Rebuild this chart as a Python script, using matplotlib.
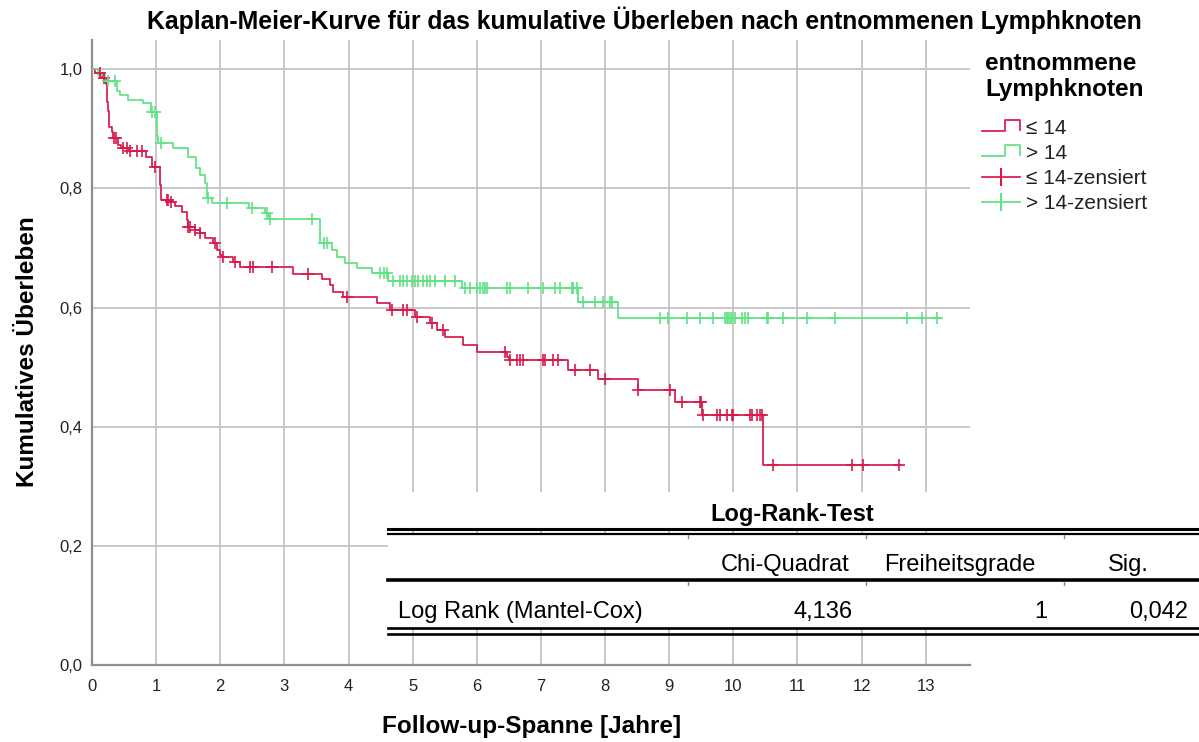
import numpy as np
import matplotlib
matplotlib.use('Agg')
import matplotlib.pyplot as plt
from matplotlib.lines import Line2D
from matplotlib.legend_handler import HandlerBase
from matplotlib.patches import Rectangle

plt.rcParams['font.family'] = ['Liberation Sans', 'DejaVu Sans']

# Gruppe <= 14 entnommene Lymphknoten: Stufen (Zeit in Jahren, Überleben danach)
t_le14 = [0, 0.05, 0.15, 0.22, 0.23, 0.24, 0.25, 0.26, 0.27, 0.31, 0.33, 0.40, 0.45,
          0.58, 0.84, 0.93, 1.06, 1.065, 1.07, 1.08, 1.21, 1.29, 1.40, 1.48, 1.495,
          1.60, 1.68, 1.76, 1.88, 1.95, 1.99, 2.03, 2.20, 2.30, 3.13, 3.58, 3.71,
          3.76, 3.91, 4.44, 4.64, 5.03, 5.27, 5.38, 5.50, 5.78, 6.00, 6.47, 6.50,
          7.42, 7.89, 8.51, 9.09, 9.51, 10.46]
s_le14 = [1.0, 0.993, 0.985, 0.975, 0.96, 0.945, 0.93, 0.915, 0.903, 0.895, 0.884,
          0.872, 0.867, 0.862, 0.852, 0.836, 0.82, 0.805, 0.79, 0.780, 0.777, 0.771,
          0.760, 0.747, 0.735, 0.730, 0.725, 0.716, 0.708, 0.696, 0.688, 0.685,
          0.676, 0.668, 0.657, 0.648, 0.637, 0.626, 0.617, 0.607, 0.596, 0.584,
          0.574, 0.562, 0.550, 0.537, 0.525, 0.517, 0.512, 0.495, 0.480, 0.461,
          0.441, 0.419, 0.336]
cens_le14 = [0.13, 0.18, 0.34, 0.37, 0.48, 0.55, 0.60, 0.70, 0.78, 0.99, 1.17, 1.19,
             1.23, 1.50, 1.53, 1.61, 1.69, 1.92, 2.04, 2.23, 2.46, 2.51, 2.81, 3.37,
             3.97, 4.68, 4.85, 4.91, 5.07, 5.30, 5.47, 6.44, 6.52, 6.62, 6.67, 6.72,
             7.03, 7.06, 7.19, 7.26, 7.53, 7.76, 8.00, 8.52, 9.01, 9.20, 9.48, 9.50,
             9.525, 9.74, 9.79, 9.90, 9.98, 9.99, 10.26, 10.29, 10.37, 10.41, 10.44,
             10.62, 11.85, 12.02, 12.58]
end_le14 = 12.6

# Gruppe > 14
t_gt14 = [0, 0.09, 0.20, 0.39, 0.44, 0.56, 0.80, 0.92, 1.01, 1.015, 1.02, 1.03, 1.26,
          1.49, 1.62, 1.68, 1.76, 1.79, 1.87, 2.45, 2.70, 2.76, 3.55, 3.56, 3.74,
          3.82, 3.94, 4.13, 4.36, 4.61, 5.77, 7.58, 8.20]
s_gt14 = [1.0, 0.99, 0.98, 0.963, 0.956, 0.948, 0.943, 0.928, 0.915, 0.90, 0.888,
          0.876, 0.867, 0.852, 0.834, 0.822, 0.809, 0.784, 0.775, 0.767, 0.758,
          0.748, 0.730, 0.708, 0.696, 0.685, 0.675, 0.666, 0.658, 0.644, 0.633,
          0.609, 0.582]
cens_gt14 = [0.25, 0.36, 0.94, 0.98, 1.08, 1.81, 2.11, 2.49, 2.73, 2.78, 3.43, 3.61,
             3.66, 4.49, 4.55, 4.60, 4.69, 4.80, 4.85, 4.91, 4.99, 5.04, 5.08, 5.16,
             5.22, 5.27, 5.35, 5.50, 5.66, 5.81, 5.89, 6.00, 6.05, 6.10, 6.13, 6.16,
             6.47, 6.52, 6.80, 7.03, 7.22, 7.30, 7.48, 7.50, 7.56, 7.65, 7.84, 7.97,
             8.08, 8.11, 8.85, 8.98, 9.28, 9.48, 9.68, 9.87, 9.90, 9.91, 9.95, 9.98,
             10.02, 10.13, 10.18, 10.23, 10.52, 10.54, 10.77, 11.15, 11.58, 12.70,
             12.94, 13.17]
end_gt14 = 13.22

labels = ['\u2264 14', '> 14', '\u2264 14-zensiert', '> 14-zensiert']
x_ticks = list(range(14))
y_ticks = [0.0, 0.2, 0.4, 0.6, 0.8, 1.0]

test_title = 'Log-Rank-Test'
test_cols = ['Chi-Quadrat', 'Freiheitsgrade', 'Sig.']
test_row = 'Log Rank (Mantel-Cox)'
test_vals = ['4,136', '1', '0,042']

red = '#D8194C'
green = '#5FE383'

W, H = 1199, 742
fig = plt.figure(figsize=(W / 100, H / 100), dpi=100)
ax = fig.add_axes([92 / W, 1 - 665 / H, (970 - 92) / W, (665 - 40) / H])


def fx(px):
    return px / W


def fy(py):
    return 1 - py / H


def km(ax, t, s, cens, t_end, color):
    tt = list(t) + [t_end]
    ss = list(s) + [s[-1]]
    ax.step(tt, ss, where='post', color=color, lw=1.25, zorder=3)
    idx = np.searchsorted(t, cens, side='right') - 1
    ax.plot(cens, np.array(s)[idx], ls='none', marker='+', ms=9, mew=1.2,
            color=color, zorder=4)


km(ax, t_le14, s_le14, cens_le14, end_le14, red)
km(ax, t_gt14, s_gt14, cens_gt14, end_gt14, green)

ax.set_xlim(0, 13.69)
ax.set_ylim(0, 1.049)
ax.set_xticks(x_ticks)
ax.set_xticklabels([str(v) for v in x_ticks])
ax.set_yticks(y_ticks)
ax.set_yticklabels([f'{v:.1f}'.replace('.', ',') for v in y_ticks])
ax.tick_params(length=0, labelsize=12, colors='#222222')
ax.tick_params(axis='x', pad=10)
ax.tick_params(axis='y', pad=7)
ax.grid(True, color='#C4C4C4', lw=1.3)
ax.set_axisbelow(True)
for side in ['top', 'right']:
    ax.spines[side].set_visible(False)
for side in ['left', 'bottom']:
    ax.spines[side].set_color('#8E8E8E')
    ax.spines[side].set_linewidth(1.6)


class StepHandler(HandlerBase):
    def create_artists(self, legend, orig, xd, yd, w, h, fontsize, trans):
        x0, y0 = -xd, -yd
        xs = [x0, x0 + 0.6 * w, x0 + 0.6 * w, x0 + w, x0 + w]
        ys = [y0 + 0.2 * h, y0 + 0.2 * h, y0 + 0.95 * h, y0 + 0.95 * h, y0 + 0.25 * h]
        return [Line2D(xs, ys, color=orig.get_color(), lw=1.25, transform=trans)]


h1 = Line2D([], [], color=red, lw=1.25)
h2 = Line2D([], [], color=green, lw=1.25)
h3 = Line2D([], [], color=red, lw=1.25, marker='|', ms=13, mew=1.5)
h4 = Line2D([], [], color=green, lw=1.25, marker='|', ms=13, mew=1.5)
leg = ax.legend([h1, h2, h3, h4], labels,
                handler_map={h1: StepHandler(), h2: StepHandler()},
                loc='upper left', bbox_to_anchor=(fx(982), fy(52)),
                bbox_transform=fig.transFigure, frameon=False, borderpad=0,
                borderaxespad=0, handlelength=1.8, handletextpad=0.3,
                labelspacing=0.29, fontsize=15, title='entnommene\nLymphknoten',
                title_fontproperties={'weight': 'bold', 'size': 17.5})
leg.get_title().set_linespacing(1.15)
leg._legend_box.sep = 13
for txt in leg.get_texts():
    txt.set_color('#222222')

# Titel und Achsenbeschriftungen
fig.text(fx(644), fy(29), 'Kaplan-Meier-Kurve für das kumulative Überleben nach entnommenen Lymphknoten',
         ha='center', va='baseline', fontsize=17.8, fontweight='bold')
fig.text(fx(532), fy(727), 'Follow-up-Spanne [Jahre]', ha='center', va='center',
         fontsize=17.5, fontweight='bold')
fig.text(fx(28), fy(352), 'Kumulatives Überleben', ha='center', va='center',
         rotation=90, fontsize=17.5, fontweight='bold')

# Log-Rank-Tabelle
for top, bot in [(492, 528), (535, 627)]:
    fig.add_artist(Rectangle((fx(388), fy(bot)), fx(1199) - fx(388), fy(top) - fy(bot),
                             transform=fig.transFigure, facecolor='white',
                             edgecolor='none', zorder=5))
for yy, lw in [(528.5, 2.2), (533.5, 1.6), (580, 2.6), (628, 1.9), (634, 1.9)]:
    fig.add_artist(Line2D([fx(388), fx(1199)], [fy(yy), fy(yy)], color='black', lw=lw,
                          transform=fig.transFigure, zorder=6))
for xx in [688, 866, 1064]:
    for y1, y2 in [(535, 538), (582, 585)]:
        fig.add_artist(Line2D([fx(xx), fx(xx)], [fy(y1), fy(y2)], color='#888888', lw=1,
                              transform=fig.transFigure, zorder=6))

fig.text(fx(792), fy(515), test_title, ha='center', va='center', fontsize=17,
         fontweight='bold', zorder=7)
for xc, col in zip([785, 960, 1128], test_cols):
    fig.text(fx(xc), fy(565), col, ha='center', va='center', fontsize=17, zorder=7)
fig.text(fx(398), fy(612), test_row, ha='left', va='center', fontsize=17, zorder=7)
for xr, val in zip([853, 1047, 1188], test_vals):
    fig.text(fx(xr), fy(612), val, ha='right', va='center', fontsize=17, zorder=7)

fig.savefig('out.png', dpi=100)
